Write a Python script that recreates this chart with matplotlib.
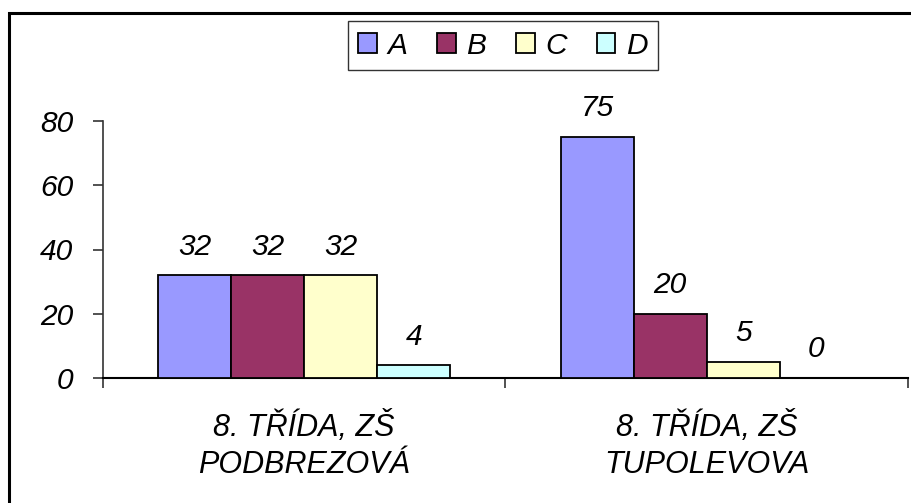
import matplotlib
matplotlib.use("Agg")
import matplotlib.pyplot as plt
import numpy as np
from matplotlib.patches import Rectangle

categories = ["8. TŘÍDA, ZŠ\nPODBREZOVÁ", "8. TŘÍDA, ZŠ\nTUPOLEVOVA"]
series = ["A", "B", "C", "D"]
values = {
    "A": [32, 75],
    "B": [32, 20],
    "C": [32, 5],
    "D": [4, 0],
}
colors = {"A": "#9999FF", "B": "#993366", "C": "#FFFFCC", "D": "#CCFFFF"}
yticks = [0, 20, 40, 60, 80]

plt.rcParams['font.family'] = ['Liberation Sans', 'DejaVu Sans']
plt.rcParams['font.style'] = 'italic'
FS = 21.5
FS_CAT = 22

W, H = 912, 503
fig = plt.figure(figsize=(W / 100, H / 100), dpi=100)
ax = fig.add_axes([103 / W, 1 - 378 / H, 805 / W, 257 / H])

bw = 0.1814
x = np.arange(len(categories)) + 0.5
handles = []
for i, s in enumerate(series):
    pos = x + (i - 1.5) * bw
    b = ax.bar(pos, values[s], bw, color=colors[s], edgecolor='black', linewidth=1.3,
               label=s, zorder=3)
    handles.append(b)
    for px, v in zip(pos, values[s]):
        ax.annotate(str(v), (px, v), xytext=(0, 10.5), textcoords='offset points',
                    ha='center', va='bottom', fontsize=FS, style='italic',
                    annotation_clip=False)

ax.set_xlim(0, 2)
ax.set_ylim(0, 80)
ax.set_yticks(yticks)
ax.set_yticklabels([str(t) for t in yticks], fontsize=FS, style='italic')
ax.set_xticks([0, 1, 2])
ax.set_xticklabels(['', '', ''])
ax.set_xticks(x, minor=True)
ax.set_xticklabels(categories, minor=True, fontsize=FS_CAT, style='italic', linespacing=1.3)
ax.tick_params(axis='x', which='minor', length=0, pad=24)
ax.tick_params(axis='x', which='major', length=7.5, width=1.2, color='#333333', direction='out')
ax.tick_params(axis='y', length=7.5, width=1.2, color='#333333', direction='out', pad=14)
for sp in ['top', 'right']:
    ax.spines[sp].set_visible(False)
ax.spines['left'].set_color('#333333')
ax.spines['left'].set_linewidth(1.2)
ax.spines['bottom'].set_color('black')
ax.spines['bottom'].set_linewidth(1.5)
ax.spines['left'].set_bounds(0, 80)

leg = fig.legend(handles=handles, labels=series, loc='center',
                 bbox_to_anchor=(503 / W, 1 - 45.5 / H), ncol=4, fontsize=FS,
                 frameon=True, fancybox=False, edgecolor='black',
                 handlelength=0.62, handleheight=0.62, handletextpad=0.36,
                 columnspacing=1.0, borderpad=0.35, borderaxespad=0)
leg.get_frame().set_linewidth(1.0)
for t in leg.get_texts():
    t.set_style('italic')

fig.patches.append(Rectangle((9 / W, -0.1), 1.2, 1 - 13 / H + 0.1, transform=fig.transFigure,
                             fill=False, edgecolor='black', linewidth=2.2))

fig.savefig("out.png", dpi=100)
